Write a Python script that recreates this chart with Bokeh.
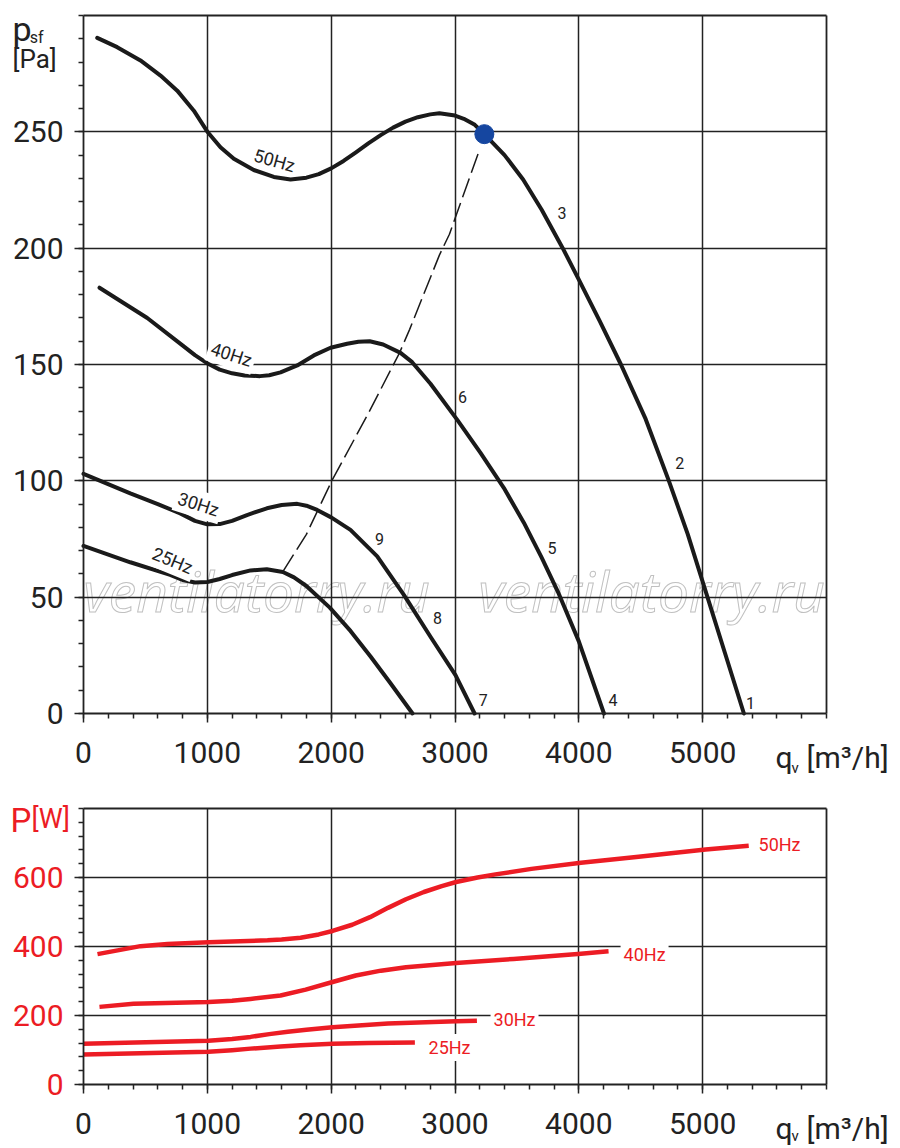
from bokeh.plotting import figure
from bokeh.models import FixedTicker, Label, Range1d, LinearAxis, Grid
from bokeh.layouts import column
from bokeh.core.properties import value
from bokeh.embed import file_html
from bokeh.resources import INLINE

# pressure curves p_sf [Pa] vs q_v [m3/h]
q50 = [111, 272, 460, 622, 757, 891, 1004, 1106, 1214, 1375, 1537, 1672, 1800, 1900, 2000, 2100,
       2200, 2300, 2400, 2500, 2600, 2700, 2800, 2874, 3000, 3071, 3160, 3237, 3400, 3550, 3700,
       3870, 4000, 4170, 4340, 4540, 4727, 4880, 5030, 5180, 5333]
p50 = [290.4, 286.4, 280.7, 274.2, 267.7, 259.1, 249.8, 243.4, 238.4, 233.6, 230.6, 229.5, 230.3,
       231.8, 234.3, 237.5, 241.2, 245, 248.6, 251.8, 254.4, 256.3, 257.5, 258, 257, 255.6, 253, 249,
       240, 229.5, 216.5, 200, 186.5, 168.5, 150, 126.5, 100, 77, 51.5, 26, 0]

q40 = [129, 515, 781, 900, 1006, 1100, 1200, 1300, 1425, 1500, 1591, 1726, 1860, 1995, 2129, 2220,
       2311, 2420, 2560, 2654, 2802, 3017, 3206, 3394, 3556, 3700, 3838, 4000, 4203]
p40 = [183, 170, 159, 154, 150.3, 147.8, 146.2, 145.3, 145, 145.4, 146.6, 149.6, 153.9, 157.2, 158.9,
       159.8, 160, 158.6, 155, 151, 141.7, 126.3, 112, 97, 82, 67, 51.5, 31, 0]

q30 = [0, 378, 600, 781, 900, 1000, 1100, 1200, 1320, 1481, 1600, 1726, 1800, 1887, 2000, 2156,
       2372, 2587, 2802, 3004, 3158]
p30 = [103, 94.6, 90, 86, 82.8, 81.3, 81.4, 82.8, 85.3, 88.2, 89.6, 90.1, 89.3, 87.5, 84.3, 78.9,
       67.5, 51, 33, 16.5, 0]

q25 = [0, 378, 700, 800, 900, 1000, 1100, 1200, 1349, 1480, 1610, 1700, 1800, 1989, 2156, 2318,
       2479, 2657]
p25 = [72, 65, 59.6, 57.4, 56.3, 56.5, 57.8, 59.5, 61.5, 62, 60.8, 58.5, 54.8, 45.5, 35.5, 24.5,
       13, 0]

# system line (dashed) and operating point
q_sys = [1610, 1800, 2005, 2300, 2552, 2633, 2874, 2955, 3196]
p_sys = [61, 77, 100, 129, 155, 165, 197, 206, 242]
q_op, p_op = 3237, 249

# curve point numbers
num_text = ["1", "2", "3", "4", "5", "6", "7", "8", "9"]
num_q = [5386, 4815, 3865, 4275, 3784, 3060, 3229, 2858, 2391]
num_p = [4.3, 107.6, 215, 5.6, 71, 136, 6, 41, 75]

# power curves P [W]
qP50 = [113, 460, 678, 1009, 1486, 1600, 1753, 1900, 2011, 2170, 2314, 2459, 2604, 2749, 2893,
        3009, 3182, 3327, 3617, 4017, 4483, 5024, 5372]
P50 = [378, 401, 407, 412, 418, 420.5, 425.5, 435, 445, 463, 485, 512, 537, 558, 575,
       587, 600, 609, 625, 643, 660, 681, 692]
qP40 = [129, 404, 1009, 1200, 1349, 1591, 1794, 2011, 2199, 2402, 2604, 3009, 3473, 4017, 4240]
P40 = [225, 234, 239, 243, 248, 258, 275, 297, 316, 330, 340, 352, 364, 379, 386]
qP30 = [0, 1009, 1200, 1349, 1500, 1650, 1800, 2011, 2459, 3009, 3177]
P30 = [118, 127, 132, 138, 146, 153, 159, 166, 177, 183, 185]
qP25 = [0, 1009, 1200, 1349, 1591, 1753, 2011, 2300, 2676]
P25 = [87, 95, 99.5, 104, 110, 114, 118, 120, 122]

x_major = [0, 1000, 2000, 3000, 4000, 5000]
p_major = [0, 50, 100, 150, 200, 250]
P_major = [0, 200, 400, 600]

INK = "#222222"
CURVE = "#1a1a1a"
RED = "#ec1c24"
FONT = "Roboto"

W = 898           # canvas width
FL, FW = 83, 743  # frame left offset and width in px
QMAX = 6000


def make_fig(h, top, fh, ymax, yticks, yminor, ycolor):
    sx = FW / QMAX
    sy = fh / ymax
    xr = Range1d(-FL / sx, (W - FL) / sx)
    yr = Range1d(-(h - top - fh) / sy, ymax + top / sy)
    f = figure(width=W, height=h, x_range=xr, y_range=yr, title=None,
               x_axis_location=None, y_axis_location=None,
               output_backend="svg", toolbar_location=None,
               min_border=0, min_border_left=0, min_border_right=0,
               min_border_top=0, min_border_bottom=0)
    f.outline_line_color = None
    for g in f.grid:
        g.visible = False

    f.add_layout(Grid(dimension=0, ticker=FixedTicker(ticks=x_major[1:]), cross_bounds=(0, ymax),
                      grid_line_color=INK, grid_line_width=1.5), "center")
    f.add_layout(Grid(dimension=1, ticker=FixedTicker(ticks=yticks[1:]), cross_bounds=(0, QMAX),
                      grid_line_color=INK, grid_line_width=1.5), "center")

    def style(ax, color):
        ax.axis_line_color = INK
        ax.axis_line_width = 1.8
        ax.major_tick_line_color = INK
        ax.minor_tick_line_color = INK
        ax.major_tick_line_width = 1.5
        ax.minor_tick_line_width = 1.5
        ax.major_tick_in = 0
        ax.major_tick_out = 9
        ax.minor_tick_in = 0
        ax.minor_tick_out = 5
        ax.major_label_text_font = FONT
        ax.major_label_text_font_size = "30px"
        ax.major_label_text_color = color

    xa = LinearAxis(fixed_location=0, bounds=(0, QMAX),
                    ticker=FixedTicker(ticks=x_major, minor_ticks=list(range(0, QMAX + 1, 200))))
    style(xa, INK)
    xa.major_label_standoff = 19
    f.add_layout(xa, "below")

    ya = LinearAxis(fixed_location=0, bounds=(0, ymax),
                    ticker=FixedTicker(ticks=yticks, minor_ticks=yminor))
    style(ya, ycolor)
    ya.major_label_standoff = 11
    f.add_layout(ya, "left")

    # closing frame lines (top and right)
    for loc, side, bnd in ((ymax, "above", (0, QMAX)), (QMAX, "right", (0, ymax))):
        a = LinearAxis(fixed_location=loc, bounds=bnd, ticker=FixedTicker(ticks=[]))
        a.axis_line_color = INK
        a.axis_line_width = 1.8
        a.major_tick_out = 0
        a.minor_tick_out = 0
        f.add_layout(a, side)
    return f


def txt(f, x, y, s, size, color=INK, align="left", base="alphabetic", angle=0, bg=None):
    lab = Label(x=x, y=y, text=s, text_font=FONT, text_font_size=size, text_color=color,
                text_align=align, text_baseline=base, angle=angle)
    if bg:
        lab.background_fill_color = bg
        lab.padding = 3
    f.add_layout(lab)


# ---------- top: pressure ----------
p1 = make_fig(778, 15, 698, 300, p_major, list(range(0, 301, 10)), INK)

# watermark (below the grid)
for wx in (0, 3190):
    wm = p1.text(x=[wx], y=[53], text=["ventilatorry.ru"], text_font=value("Open Sans"),
                 text_font_style="italic", text_font_size="55px", text_color="white",
                 text_outline_color="#c0c0c0", text_baseline="alphabetic")
    wm.level = "image"

for qq, pp in ((q50, p50), (q40, p40), (q30, p30), (q25, p25)):
    p1.line(qq, pp, line_color=CURVE, line_width=4, line_join="round", line_cap="round")
p1.line(q_sys, p_sys, line_color=CURVE, line_width=1.5, line_dash="20 6")
p1.scatter([q_op], [p_op], size=19, color="#1546a0")

p1.text(x=num_q, y=num_p, text=num_text, text_font=value(FONT), text_font_size="16px",
        text_color=INK, text_align="center", text_baseline="middle")

txt(p1, 1542, 237.7, "50Hz", "18px", align="center", base="middle", angle=-0.27)
txt(p1, 1195, 154.3, "40Hz", "18px", align="center", base="middle", angle=-0.31, bg="white")
txt(p1, 929, 90, "30Hz", "18px", align="center", base="middle", angle=-0.31, bg="white")
txt(p1, 719, 65.8, "25Hz", "18px", align="center", base="middle", angle=-0.39, bg="white")

# axis titles
txt(p1, -573, 294.4, "p", "34px")
txt(p1, -434, 290.6, "sf", "16px")
txt(p1, -573, 281.5, "[Pa]", "26px")
txt(p1, 5588, -18.9, "q", "30px")
txt(p1, 5717, -23.6, "v", "15px")
txt(p1, 5839, -18.9, "[m\u00b3/h]", "30px")

# ---------- bottom: power ----------
p2 = make_fig(368, 30, 276, 800, P_major, list(range(0, 801, 40)), RED)

for qq, PP in ((qP50, P50), (qP40, P40), (qP30, P30), (qP25, P25)):
    p2.line(qq, PP, line_color=RED, line_width=4.5, line_join="round")

txt(p2, 5427, 696, "50Hz", "18px", color=RED, base="middle", bg="white")
txt(p2, 4337, 377, "40Hz", "18px", color=RED, base="middle", bg="white")
txt(p2, 3287, 188, "30Hz", "18px", color=RED, base="middle", bg="white")
txt(p2, 2762, 107, "25Hz", "18px", color=RED, base="middle", bg="white")

txt(p2, -590, 765, "P", "33px", color=RED)
txt(p2, -420, 771, "[W]", "27px", color=RED)
txt(p2, 5588, -127.5, "q", "30px")
txt(p2, 5717, -150, "v", "15px")
txt(p2, 5839, -127.5, "[m\u00b3/h]", "30px")

layout = column(p1, p2)
open("out.html", "w").write(file_html(layout, INLINE))
